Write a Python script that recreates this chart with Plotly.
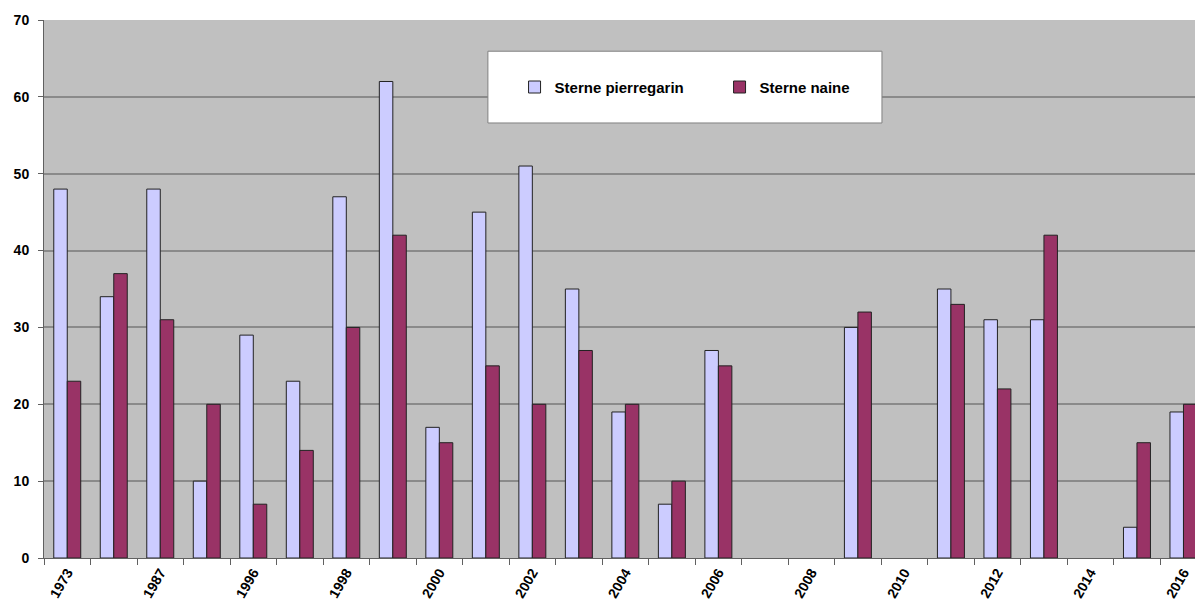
import plotly.graph_objects as go

# categories (2nd and 4th labels are hidden on the original axis)
years = ["1973", "1980", "1987", "1990", "1996", "1997", "1998", "1999", "2000",
         "2001", "2002", "2003", "2004", "2005", "2006", "2007", "2008", "2009",
         "2010", "2011", "2012", "2013", "2014", "2015", "2016"]
shown_labels = ["1973", "1987", "1996", "1998", "2000", "2002", "2004", "2006",
                "2008", "2010", "2012", "2014", "2016"]

pierregarin = [48, 34, 48, 10, 29, 23, 47, 62, 17, 45, 51, 35, 19, 7, 27,
               None, None, 30, None, 35, 31, 31, None, 4, 19]
naine = [23, 37, 31, 20, 7, 14, 30, 42, 15, 25, 20, 27, 20, 10, 25,
         None, None, 32, None, 33, 22, 42, None, 15, 20]

tick_text = [y if y in shown_labels else "" for y in years]

fig = go.Figure()
fig.add_trace(go.Bar(
    x=years, y=pierregarin, name="Sterne pierregarin",
    marker=dict(color="#CCCCFF", line=dict(color="#222222", width=1))
))
fig.add_trace(go.Bar(
    x=years, y=naine, name="Sterne naine",
    marker=dict(color="#993366", line=dict(color="#222222", width=1))
))

# white legend box like the original
fig.add_shape(type="rect", xref="paper", yref="paper",
              x0=0.383, x1=0.723, y0=0.8086, y1=0.942,
              fillcolor="white", line=dict(color="#808080", width=1), layer="above")

# the page body has an 8px margin, so the figure is sized/margined to fit the window
fig.update_layout(
    width=1195, height=598,
    margin=dict(l=36, r=0, t=12, b=48),
    paper_bgcolor="white",
    plot_bgcolor="#C0C0C0",
    barmode="group",
    bargap=0.42,
    bargroupgap=0,
    font=dict(family="Liberation Sans, Arial", size=14, color="black"),
    legend=dict(
        orientation="h", x=0.406, y=0.875, xanchor="left", yanchor="middle",
        bgcolor="rgba(0,0,0,0)", font=dict(size=15, weight="bold"),
        entrywidth=160, itemwidth=30,
    ),
    xaxis=dict(
        type="category", range=[-0.5, 24.42],
        tickmode="array", tickvals=years, ticktext=tick_text,
        tickangle=-60, tickson="boundaries", ticks="outside", ticklen=6,
        tickcolor="#606060", tickfont=dict(size=14, weight="bold"),
        showline=True, linecolor="#606060", linewidth=1,
        showgrid=False, automargin=False,
    ),
    yaxis=dict(
        range=[0, 70], dtick=10, ticks="outside", ticklen=5,
        ticklabelstandoff=6,
        tickcolor="#606060", tickfont=dict(size=14, weight="bold"),
        showline=True, linecolor="#606060", linewidth=1,
        showgrid=True, gridcolor="#8A8A8A", gridwidth=2,
        zeroline=False, automargin=False,
    ),
)

fig.write_html("out.html")
